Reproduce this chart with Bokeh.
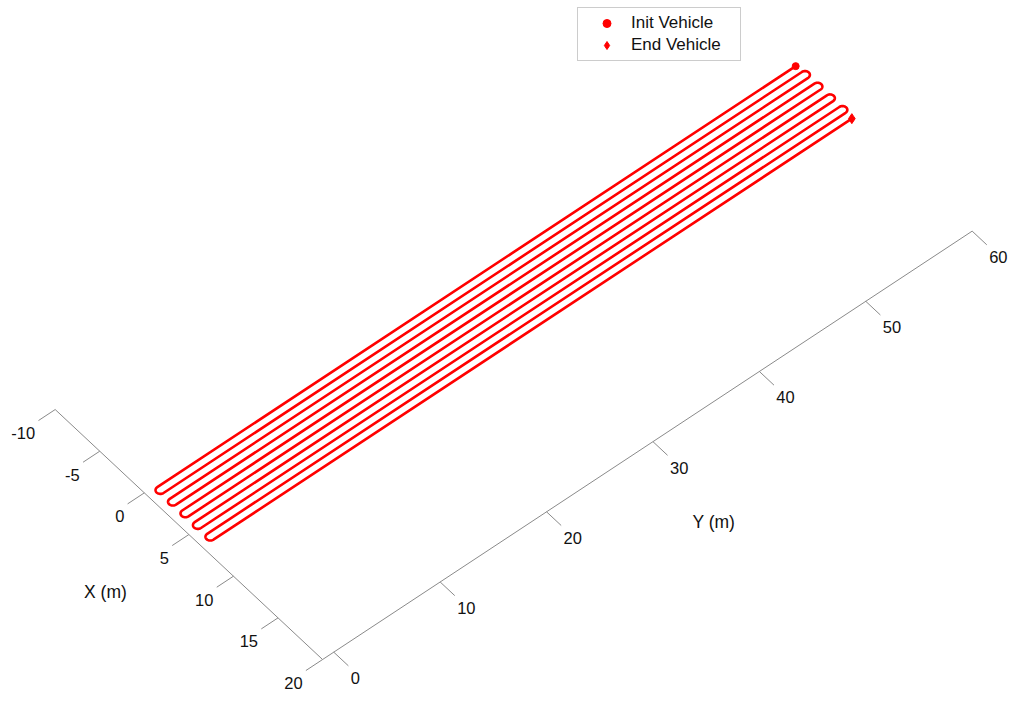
import numpy as np
from bokeh.plotting import figure
from bokeh.models import Range1d, Legend, LegendItem
from bokeh.embed import file_html
from bokeh.resources import INLINE
from bokeh.core.properties import value

# ---------------- data ----------------
lane_x = [0.2, 0.9, 1.6, 2.3, 3.0, 3.7, 4.4, 5.1, 5.8, 6.5]   # X (m) of each pass
lane_y_start = 0.0      # Y (m) where passes begin / end (bottom)
lane_y_end = 60.0       # Y (m) top end of passes
x_ticks = [-10, -5, 0, 5, 10, 15, 20]
y_ticks = [0, 10, 20, 30, 40, 50, 60]
x_lim = [-10, 20]
y_lim = [-1.05, 60]
legend_labels = ["Init Vehicle", "End Vehicle"]

# ---------------- oblique 3-D view projection (data -> page px) ----------------
O = (155.0, 485.0)
EX = (8.913, 8.333)
EY = (10.64, -7.017)


def proj(x, y):
    x = np.asarray(x, dtype=float)
    y = np.asarray(y, dtype=float)
    return O[0] + EX[0] * x + EY[0] * y, O[1] + EX[1] * x + EY[1] * y


# serpentine path
px, py = [], []
for i, lx in enumerate(lane_x):
    down = (i % 2 == 0)
    ys = [lane_y_end, lane_y_start] if down else [lane_y_start, lane_y_end]
    px += [lx, lx]
    py += ys
    if i < len(lane_x) - 1:
        nx = lane_x[i + 1]
        cx = (lx + nx) / 2.0
        r = (nx - lx) / 2.0
        t = np.linspace(np.pi, 0, 30)
        sgn = -1.0 if down else 1.0
        px += list(cx + r * np.cos(t))
        py += list(ys[1] + sgn * r * np.sin(t))

W, H = 1016, 698
p = figure(width=W, height=H, output_backend="svg", toolbar_location=None,
           x_range=Range1d(0, W), y_range=Range1d(H, 0),
           min_border=0, outline_line_color=None)
p.axis.visible = False
p.grid.visible = False
p.background_fill_color = "white"
p.border_fill_color = "white"

axis_color = "#8a8a8a"
font = value("Liberation Sans")

# axes lines
ax0 = proj([x_lim[0], x_lim[1]], [y_lim[0], y_lim[0]])
p.line(ax0[0], ax0[1], line_color=axis_color, line_width=1)
ay0 = proj([x_lim[1], x_lim[1]], [y_lim[0], y_lim[1]])
p.line(ay0[0], ay0[1], line_color=axis_color, line_width=1)

# X ticks (pointing along -Y)
xt = np.array(x_ticks, dtype=float)
a = proj(xt, np.full_like(xt, y_lim[0]))
b = proj(xt, np.full_like(xt, y_lim[0] - 1.57))
p.segment(a[0], a[1], b[0], b[1], line_color=axis_color, line_width=1)
p.text(a[0], a[1], text=[str(v) for v in x_ticks], x_offset=-20, y_offset=23.4,
       text_align="right", text_baseline="middle", text_font=font,
       text_font_size="16.5px", text_color="#111111")

# Y ticks (pointing along +X)
yt = np.array(y_ticks, dtype=float)
a = proj(np.full_like(yt, x_lim[1]), yt)
b = proj(np.full_like(yt, x_lim[1] + 1.64), yt)
p.segment(a[0], a[1], b[0], b[1], line_color=axis_color, line_width=1)
p.text(a[0], a[1], text=[str(v) for v in y_ticks], x_offset=17.0, y_offset=26,
       text_align="left", text_baseline="middle", text_font=font,
       text_font_size="16.5px", text_color="#111111")

# axis titles
lx_ = proj([5.19], [-9.05])
p.text(lx_[0], lx_[1], text=["X (m)"], text_align="center", text_baseline="middle",
       text_font=font, text_font_size="17.5px", text_color="#111111")
ly_ = proj([28.5], [28.6])
p.text(ly_[0], ly_[1], text=["Y (m)"], text_align="center", text_baseline="middle",
       text_font=font, text_font_size="17.5px", text_color="#111111")

# path
sx, sy = proj(px, py)
p.line(sx, sy, line_color="#ff0000", line_width=2.6, line_join="round")

# init / end markers
ix, iy = proj([lane_x[0]], [lane_y_end])
ex_, ey_ = proj([lane_x[-1]], [lane_y_end])
r_init = p.scatter(ix, iy, marker="circle", size=7, fill_color="#ff0000", line_color="#ff0000")
r_end = p.scatter(ex_, ey_, marker="diamond", size=10, fill_color="#ff0000", line_color="#ff0000")

legend = Legend(items=[LegendItem(label=legend_labels[0], renderers=[r_init]),
                       LegendItem(label=legend_labels[1], renderers=[r_end])],
                location=(577, H - 61), orientation="vertical",
                padding=5, margin=0, spacing=2,
                glyph_width=47, glyph_height=20, label_height=20, label_width=104,
                label_standoff=1,
                label_text_font="Liberation Sans", label_text_font_size="17px",
                label_text_color="#111111", label_text_baseline="middle",
                border_line_color="#9a9a9a", border_line_width=1,
                background_fill_color="white", background_fill_alpha=1.0)
p.add_layout(legend)

open("out.html", "w").write(file_html(p, INLINE))
